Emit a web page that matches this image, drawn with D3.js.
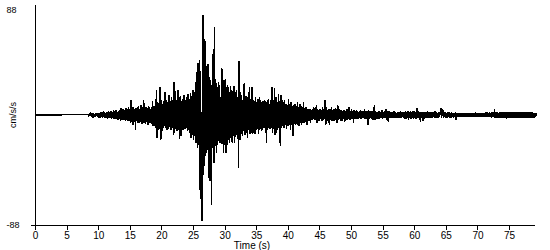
<!DOCTYPE html>
<html>
<head>
<meta charset="utf-8">
<script src="https://cdn.jsdelivr.net/npm/d3@7"></script>
<style>
  body { margin: 0; background: #fff; }
  svg { display: block; }
  .axis text { font-family: "Liberation Sans", Arial, sans-serif; fill: #000; }
  .axis path, .axis line { stroke: #000; shape-rendering: crispEdges; }
</style>
</head>
<body>
<svg id="chart" width="550" height="250"></svg>
<script>
// ground acceleration record, cm/s/s
var quietUntil = 8.4;   // flat trace before the P arrival
var dt = 0.1;           // sample spacing of the values below (s)
var recordEnd = 79.1;

// one row = one second, starting at 8.4 s
var accel = [
    0.3, -0.5, 0.6, -0.4, 0.9, -0.7, 0.5, -0.9, 1.2, -0.8,
    1.0, -1.5, 1.4, -1.1, 1.8, -1.6, 1.2, -2.0, 1.7, -2.2,
    2.4, -1.6, 2.0, -2.5, 3.0, -1.8, 2.2, -2.6, 1.9, -2.3,
    2.6, -3.0, 3.2, -2.0, 2.4, -2.7, 2.8, -3.4, 2.2, -2.5,
    3.6, -2.8, 3.0, -3.5, 4.2, -3.0, 2.6, -3.8, 3.4, -3.2,
    4.0, -4.5, 5.2, -3.6, 4.4, -4.0, 4.6, -3.8, 3.9, -5.0,
    5.6, -4.2, 4.6, -4.8, 6.4, -5.0, 4.5, -6.0, 12.0, -5.5,
    6.0, -8.0, 6.5, -5.5, 5.0, -12.0, 5.5, -4.8, 6.2, -6.0,
    7.5, -6.0, 5.0, -5.5, 8.0, -7.0, 6.0, -6.5, 12.0, -6.0,
    6.4, -7.5, 6.5, -5.8, 5.5, -8.0, 7.0, -6.0, 5.0, -6.5,
    6.0, -7.0, 11.0, -9.0, 7.5, -8.5, 6.5, -10.0, 20.0, -18.6,
    10.0, -12.0, 9.5, -11.0, 22.0, -20.0, 12.0, -13.0, 9.0, -10.5,
    11.0, -9.0, 18.0, -10.0, 12.0, -12.0, 10.0, -11.0, 16.0, -9.5,
    11.0, -12.0, 14.0, -10.0, 12.0, -16.0, 26.0, -14.0, 19.0, -11.0,
    12.0, -13.0, 20.0, -12.0, 14.0, -19.0, 15.0, -17.0, 11.0, -12.0,
    13.0, -12.0, 16.0, -11.0, 12.0, -10.5, 14.0, -13.0, 17.0, -12.0,
    13.0, -14.0, 17.6, -18.7, 15.0, -16.0, 20.0, -20.0, 18.0, -17.0,
    26.6, -22.0, 34.7, -26.0, 41.6, -24.0, 44.0, -60.0, 35.0, -72.0,
    -85.0, -40.0, 80.0, -48.0, 61.0, -33.0, 59.0, -30.0, 32.0, -28.0,
    41.0, -50.0, 30.0, -53.0, 28.0, -72.0, 24.0, -26.0, 53.0, -38.0,
    70.6, -25.0, 29.0, -30.0, 22.0, -24.0, 26.0, -21.0, 24.0, -22.0,
    -20.0, 37.6, -23.0, 37.0, -30.0, 28.0, -24.0, 29.0, -30.0, 22.0,
    -24.0, 24.0, -20.0, 18.0, -22.0, 23.0, -18.0, 20.0, -22.0, 19.0,
    -17.0, 23.0, -22.0, 18.0, -16.0, 20.0, -19.0, 14.0, -42.0, 43.0,
    -20.0, 18.0, -15.0, 16.0, -17.0, 12.0, -13.0, 25.6, -16.0, 15.0,
    -14.0, 15.0, -18.0, 14.0, -12.0, 22.6, -15.0, 13.0, -14.0, 22.6,
    -15.0, 12.0, -14.0, 11.0, -15.0, 14.0, -12.0, 10.0, -11.0, 13.0,
    -15.0, 14.0, -11.0, 12.0, -13.0, 10.0, -12.0, 11.0, -10.0, 12.0,
    -9.0, 11.0, -22.0, 10.0, -12.0, 13.0, -10.0, 9.0, -11.0, 12.0,
    -10.0, 22.0, -14.0, 12.0, -11.0, 21.6, -16.0, 14.0, -14.0, 10.0,
    -12.0, 17.0, -10.0, 11.0, -25.0, 16.0, -10.0, 12.0, -9.0, 10.0,
    -10.0, 12.0, -8.0, 9.0, -11.0, 8.0, -9.0, 13.0, -8.0, 9.0,
    -12.0, 10.0, -8.0, 7.0, -17.0, 8.0, -7.0, 9.0, -8.0, 6.0,
    -7.0, 10.0, -8.0, 6.0, -9.0, 9.0, -6.0, 7.0, -8.0, 6.5,
    -6.0, 10.0, -6.7, 5.0, -5.5, 6.0, -8.0, 5.0, -5.0, 4.5,
    -4.5, 5.0, -6.0, 4.0, -4.0, 5.0, -3.5, 6.0, -4.0, 4.5,
    -4.0, 8.0, -6.7, 5.0, -5.0, 4.0, -4.5, 5.0, -3.5, 4.0,
    -5.0, 6.0, -4.0, 5.0, -3.0, 12.0, -8.0, 6.0, -5.0, 4.0,
    -6.0, 5.0, -8.0, 4.5, -4.0, 6.0, -5.0, 4.0, -4.5, 5.0,
    -4.5, 5.5, -4.0, 4.5, -6.7, 8.0, -4.0, 5.0, -3.5, 4.0,
    -5.0, 4.0, -4.5, 3.5, -3.0, 4.0, -5.5, 3.0, -4.0, 4.5,
    -4.0, 5.0, -3.0, 6.7, -4.0, 3.5, -3.0, 4.5, -3.5, 3.0,
    -6.7, 4.0, -3.5, 3.0, -2.8, 3.8, -3.0, 2.5, -3.2, 3.0,
    -2.5, 4.0, -3.0, 3.5, -2.7, 2.5, -2.0, 4.5, -3.0, 2.8,
    -3.0, 3.5, -2.5, -8.0, 4.0, -3.5, 3.0, -2.5, 3.2, -3.0,
    3.0, -4.0, 3.5, 8.0, -4.0, 3.5, -3.0, 2.5, -2.8, 3.0,
    -3.0, 3.0, -2.5, 2.2, -2.0, 4.0, -3.0, 2.5, -2.4, 3.0,
    -2.5, 5.0, -4.0, 3.0, -2.5, -5.3, 3.0, -2.5, 2.0, -2.2,
    2.5, -2.5, 2.0, -2.0, 2.8, -2.5, 2.2, -2.0, 1.8, -2.4,
    2.5, -2.2, 2.0, -2.6, 2.8, -2.0, 2.4, -1.8, 2.2, -2.5,
    2.6, -3.0, 3.2, -2.8, 2.4, -2.2, 3.0, -3.6, 2.5, -2.4,
    3.0, -3.4, 2.6, -2.2, 2.8, -3.0, 3.2, -2.6, 2.4, -2.8,
    5.6, -2.5, 3.0, -2.4, 2.2, -3.0, -5.3, 2.5, -2.0, 2.4,
    -4.5, 2.0, -3.0, 2.4, -2.5, 2.2, -2.0, 3.0, -2.0, 2.6,
    -2.2, 2.4, -2.0, 2.6, -2.5, 2.0, -1.8, 2.4, -2.0, 3.0,
    -2.5, 2.2, -2.0, 1.8, -2.2, 2.4, -1.6, 2.0, 5.9, -2.0,
    2.0, 4.8, -2.5, 2.0, -1.8, 2.2, -2.0, 1.8, -2.4, 2.0,
    -1.8, 2.2, -2.0, 1.8, -2.4, 2.0, -1.6, 1.8, -2.0, 1.6,
    -1.8, 2.0, -4.0, 1.5, -1.6, 1.4, -1.2, 1.5, -1.4, 1.2,
    -1.5, 1.2, -1.4, 1.5, -1.2, 1.5, -1.6, 1.2, -1.4, 1.6,
    -1.2, 1.4, -1.5, 1.2, -1.4, 1.8, -1.3, 1.5, -1.6, 1.4,
    -1.8, 1.6, -1.4, 2.0, -1.6, 1.2, -1.5, 1.4, -1.2, 1.5,
    -1.4, 1.8, -1.3, 1.5, -1.6, 1.4, -1.8, 1.6, -1.4, 2.0,
    -1.6, 2.0, -1.5, 1.8, -1.7, 2.0, -1.8, 1.6, -2.0, 2.2,
    -1.6, 2.0, -1.5, 4.8, -2.0, 2.2, -2.4, 2.0, -2.2, 1.8,
    -2.4, 2.6, -2.0, 2.4, -2.6, 2.2, -2.4, 2.6, -2.0, 2.4,
    -2.2, 2.4, -2.8, 2.2, -2.0, 2.6, -2.2, 2.0, -2.4, 2.2,
    -2.0, 2.4, -2.2, 2.0, -2.5, 2.3, -2.1, 2.5, -2.3, 2.0,
    -2.4, 2.2, -2.0, 2.6, -2.3, 2.0, -2.2, 2.4, -2.6, 2.1,
    -2.2, 2.5, -2.0, 2.3, -2.4, 2.0, -2.3, 2.2, -2.0, 2.4,
    -2.1, 2.3, -2.4, 2.0, -2.2, 1.8, -2.0, 1.6, -1.8, 1.5
];

var xTicks = [0, 5, 10, 15, 20, 25, 30, 35, 40, 45, 50, 55, 60, 65, 70, 75];
var yTicks = [-88, 88];
var xTitle = "Time (s)";
var yTitle = "cm/s/s";

var svg = d3.select("#chart");

var x = d3.scaleLinear().domain([0, recordEnd]).range([35, 535]);
var y = d3.scaleLinear().domain([-88, 88]).range([225, 5]);

// build the trace: flat until the arrival, then the samples
var trace = [{t: 0, a: 0}];
accel.forEach(function (v, i) {
    trace.push({t: quietUntil + i * dt, a: v});
});

var line = d3.line()
    .x(function (d) { return x(d.t); })
    .y(function (d) { return y(d.a); });

svg.append("path")
    .datum(trace)
    .attr("fill", "none")
    .attr("stroke", "#000")
    .attr("stroke-width", 1.4)
    .attr("shape-rendering", "crispEdges")
    .attr("d", line);

// X axis
var gx = svg.append("g")
    .attr("class", "axis")
    .attr("transform", "translate(0," + 225.5 + ")")
    .call(d3.axisBottom(x).tickValues(xTicks).tickSizeInner(4).tickSizeOuter(0).tickPadding(2));
gx.select(".domain").attr("d", "M31,0H535");
gx.selectAll("text").style("font-size", "10px");

// Y axis (hyphen minus, as in the original)
var gy = svg.append("g")
    .attr("class", "axis")
    .attr("transform", "translate(35.5,0)")
    .call(d3.axisLeft(y).tickValues(yTicks).tickSize(0)
        .tickFormat(function (d) { return String(d); }));
gy.select(".domain").attr("d", "M0,5V229");
gy.selectAll("text")
    .style("font-size", "9px")
    .attr("dy", function (d) { return d > 0 ? "0.85em" : "0.32em"; })
    .attr("x", function (d) { return d > 0 ? -19 : -16; });

svg.append("text")
    .attr("x", 252)
    .attr("y", 249)
    .attr("text-anchor", "middle")
    .style("font-family", "Liberation Sans, Arial, sans-serif")
    .style("font-size", "10px")
    .text(xTitle);

svg.append("text")
    .attr("transform", "translate(15.5," + y(0) + ") rotate(-90)")
    .attr("text-anchor", "middle")
    .style("font-family", "Liberation Sans, Arial, sans-serif")
    .style("font-size", "9px")
    .text(yTitle);
</script>
</body>
</html>
